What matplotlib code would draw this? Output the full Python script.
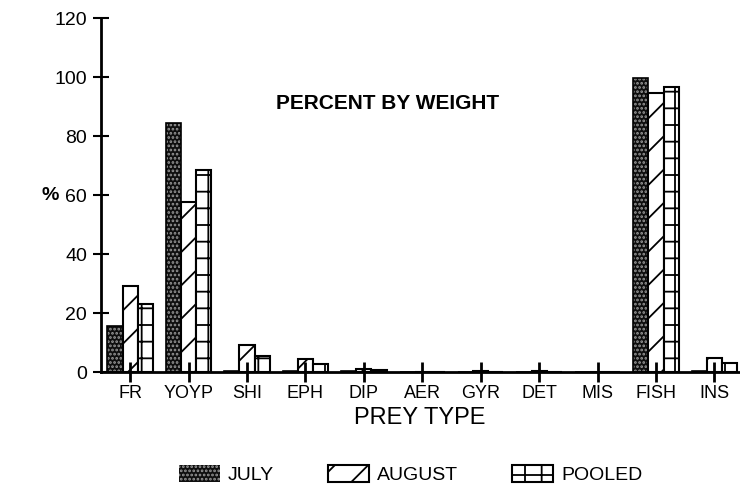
import numpy as np
import matplotlib
matplotlib.use("Agg")
import matplotlib.pyplot as plt
from matplotlib.patches import Patch

plt.rcParams['font.family'] = ['Liberation Sans', 'DejaVu Sans']
plt.rcParams['hatch.linewidth'] = 1.3

# Datos
prey = ["FR", "YOYP", "SHI", "EPH", "DIP", "AER", "GYR", "DET", "MIS", "FISH", "INS"]
july = [15.5, 84.5, 0.3, 0.4, 0.4, 0.1, 0.1, 0.1, 0.1, 99.5, 0.2]
august = [29, 57.5, 9, 4.4, 1.0, 0, 0.2, 0.2, 0, 94.7, 4.7]
pooled = [23, 68.5, 5.4, 2.8, 0.6, 0, 0.1, 0.1, 0, 96.6, 3.0]
yticks = [0, 20, 40, 60, 80, 100, 120]

fig = plt.figure(figsize=(7.4, 4.92), dpi=100)
ax = fig.add_axes([0.1365, 0.2439, 0.862, 0.7195])

x = np.arange(len(prey))
w = 0.26
ax.bar(x - w, july, w, facecolor="#0e0e0e", edgecolor="#999999", hatch="....", linewidth=0)
ax.bar(x - w, july, w, facecolor="none", edgecolor="black", linewidth=1.2)
ax.bar(x, august, w, facecolor="white", edgecolor="black", hatch="/", linewidth=1.5)
ax.bar(x + w, pooled, w, facecolor="white", edgecolor="black", hatch="+", linewidth=1.5)

ax.set_xlim(-0.5, 10.42)
ax.set_ylim(0, 120)
ax.set_yticks(yticks)
ax.set_xticks(x)
ax.set_xticklabels(prey)
for s in ["top", "right"]:
    ax.spines[s].set_visible(False)
ax.spines["left"].set_linewidth(2)
ax.spines["bottom"].set_linewidth(2)
ax.tick_params(axis="y", direction="inout", length=12, width=1.5, labelsize=14, pad=4)
ax.tick_params(axis="x", direction="inout", length=14, width=2, labelsize=13, pad=2)

ax.set_xlabel("PREY TYPE", fontsize=17, labelpad=4)
fig.text(0.068, 0.603, "%", fontsize=14, fontweight="bold", ha="center", va="center")
fig.text(0.524, 0.79, "PERCENT BY WEIGHT", fontsize=15, fontweight="bold", ha="center", va="center")

handles = [
    Patch(facecolor="#0e0e0e", edgecolor="#999999", hatch="....", linewidth=0),
    Patch(facecolor="white", edgecolor="black", hatch="/", linewidth=1.5),
    Patch(facecolor="white", edgecolor="black", hatch="+", linewidth=1.5),
]
fig.legend(handles, ["JULY", "AUGUST", "POOLED"], loc="center", bbox_to_anchor=(0.555, 0.035),
           ncol=3, frameon=False, fontsize=14, handlelength=2.1, handleheight=0.9,
           columnspacing=2.8, handletextpad=0.4)

plt.savefig("out.png", dpi=100)
